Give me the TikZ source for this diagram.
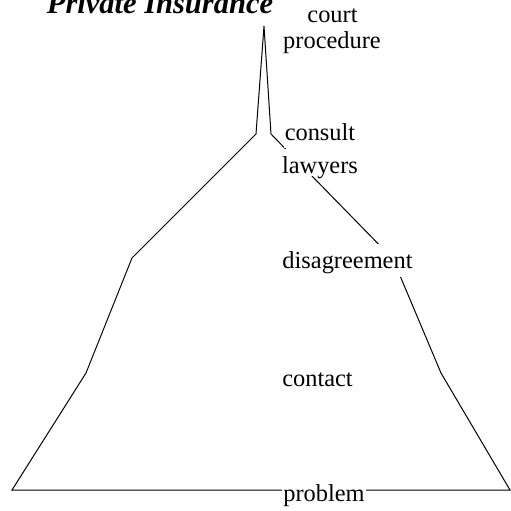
\documentclass[tikz,border=0pt]{standalone}
\usepackage{fontspec}
\setmainfont{Liberation Serif}
\begin{document}
\begin{tikzpicture}[x=0.5pt,y=-0.5pt,
  outline/.style={draw=black,line width=0.5pt,line join=miter},
  stage/.style={fill=white,anchor=base,inner xsep=0.5pt,inner ysep=1.5pt,
    text height=10.9pt,text depth=2.6pt,font=\fontsize{12.2pt}{14pt}\selectfont},
  heading/.style={anchor=base,inner sep=0pt,font=\fontsize{15.25pt}{18pt}\selectfont\bfseries\itshape}]
  \path[use as bounding box,clip] (0,0) rectangle (511,511);

  % corners of the mountain outline
  \coordinate (L0) at (12,490);
  \coordinate (L1) at (86,373);
  \coordinate (L2) at (132,258);
  \coordinate (L3) at (256,134);
  \coordinate (T)  at (264,26);
  \coordinate (R3) at (271,134);
  \coordinate (R2) at (393,259);
  \coordinate (R1) at (441,373);
  \coordinate (R0) at (510,490);

  \draw[outline] (L0) -- (L1) -- (L2) -- (L3) -- (T) -- (R3) -- (R2) -- (R1) -- (R0) -- cycle;

  % stage labels, laid over the outline
  \node[heading] (title) at (160,13.3) {Private Insurance};
  \node[stage] (court) at (332.5,22.7) {court};
  \node[stage] (procedure) at (332,48) {procedure};
  \node[stage] (consult) at (320,140) {consult};
  \node[stage,text depth=0pt] (lawyers) at (320,173.3) {lawyers};
  \node[stage] (disagreement) at (347.5,268.5) {disagreement};
  \node[stage] (contact) at (317.5,386) {contact};
  \node[stage] (problem) at (324,501) {problem};
\end{tikzpicture}
\end{document}
